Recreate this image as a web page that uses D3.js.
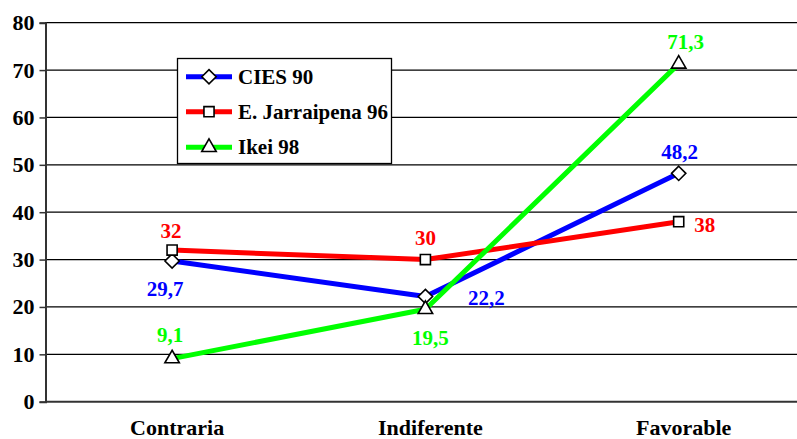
<!DOCTYPE html>
<html><head><meta charset="utf-8">
<script src="https://cdn.jsdelivr.net/npm/d3@7"></script>
</head><body style="margin:0;background:#fff">
<svg id="c" width="797" height="439" style="display:block"></svg>
<script>
const categories = ["Contraria", "Indiferente", "Favorable"];
const seriesNames = ["CIES 90", "E. Jarraipena 96", "Ikei 98"];
const ciesValues = [29.7, 22.2, 48.2];
const jarraipenaValues = [32, 30, 38];
const ikeiValues = [9.1, 19.5, 71.3];
const ciesLabels = ["29,7", "22,2", "48,2"];
const jarraipenaLabels = ["32", "30", "38"];
const ikeiLabels = ["9,1", "19,5", "71,3"];
const yTicks = [0, 10, 20, 30, 40, 50, 60, 70, 80];

const FONT = "Liberation Serif";
const colors = ["#0000ff", "#ff0000", "#00ff00"];
const symbols = [d3.symbolDiamond2, d3.symbolSquare2, d3.symbolTriangle2];
const labelOffsets = [
  [[-7, 28], [61, 1], [1, -21]],
  [[-1, -19], [0, -22], [26, 3]],
  [[-2, -24], [5, 29], [7, -22]]
];
const series = [
  {name: seriesNames[0], values: ciesValues, labels: ciesLabels},
  {name: seriesNames[1], values: jarraipenaValues, labels: jarraipenaLabels},
  {name: seriesNames[2], values: ikeiValues, labels: ikeiLabels}
];

function serif(sel, size) {
  return sel.attr("font-family", FONT).attr("font-weight", "bold").attr("font-size", size);
}

const svg = d3.select("#c");
const x = d3.scalePoint().domain(categories).range([45.5 + 126.6, 45.5 + 126.6 + 2 * 253.3]);
const y = d3.scaleLinear().domain([0, 80]).range([401.7, 22.7]);

// gridlines
svg.append("g").selectAll("line").data(yTicks.filter(t => t > 0)).join("line")
  .attr("x1", 45).attr("x2", 797).attr("y1", d => y(d)).attr("y2", d => y(d))
  .attr("stroke", "#000").attr("stroke-width", 1.3);

// y axis
const yAxis = d3.axisLeft(y).tickValues(yTicks).tickSize(6).tickPadding(5).tickFormat(d3.format("d"));
const gy = svg.append("g").attr("transform", "translate(45.5,0)").call(yAxis);
serif(gy, 22);
gy.select(".domain").attr("stroke", "#333").attr("stroke-width", 2);
gy.selectAll(".tick line").attr("stroke", "#333").attr("stroke-width", 1.5);
serif(gy.selectAll(".tick text"), 22).attr("fill", "#000");

// x axis line
svg.append("line").attr("x1", 45).attr("x2", 797).attr("y1", y(0)).attr("y2", y(0))
  .attr("stroke", "#333").attr("stroke-width", 2);
// x category labels
serif(svg.append("g").selectAll("text").data(categories).join("text")
  .attr("x", d => x(d) + 5).attr("y", 435).attr("text-anchor", "middle")
  .attr("fill", "#000").text(d => d), 22);

const line = d3.line().x((d, i) => x(categories[i])).y(d => y(d));

series.forEach((s, si) => {
  svg.append("path").datum(s.values).attr("d", line)
    .attr("fill", "none").attr("stroke", colors[si]).attr("stroke-width", 5).attr("stroke-linejoin", "round");
});
series.forEach((s, si) => {
  svg.append("g").selectAll("path").data(s.values).join("path")
    .attr("transform", (d, i) => `translate(${x(categories[i])},${y(d)})`)
    .attr("d", d3.symbol().type(symbols[si]).size(si === 2 ? 150 : 130))
    .attr("fill", "#fff").attr("stroke", "#000").attr("stroke-width", 1.6);
});
series.forEach((s, si) => {
  serif(svg.append("g").selectAll("text").data(s.values).join("text")
    .attr("x", (d, i) => x(categories[i]) + labelOffsets[si][i][0])
    .attr("y", (d, i) => y(d) + labelOffsets[si][i][1] + 7)
    .attr("text-anchor", "middle")
    .attr("fill", colors[si]).text((d, i) => s.labels[i]), 21);
});

// legend
const lg = svg.append("g");
lg.append("rect").attr("x", 177.5).attr("y", 58.5).attr("width", 214).attr("height", 105)
  .attr("fill", "#fff").attr("stroke", "#000").attr("stroke-width", 1.3);
const rowsY = [76.7, 111.7, 147.3];
series.forEach((s, si) => {
  lg.append("line").attr("x1", 186).attr("x2", 232).attr("y1", rowsY[si]).attr("y2", rowsY[si])
    .attr("stroke", colors[si]).attr("stroke-width", 5);
  lg.append("path").attr("transform", `translate(209,${rowsY[si]})`)
    .attr("d", d3.symbol().type(symbols[si]).size(si === 2 ? 150 : 130))
    .attr("fill", "#fff").attr("stroke", "#000").attr("stroke-width", 1.6);
  serif(lg.append("text").attr("x", 238).attr("y", rowsY[si] + 7)
    .attr("fill", "#000").text(s.name), 21);
});
</script></body></html>
